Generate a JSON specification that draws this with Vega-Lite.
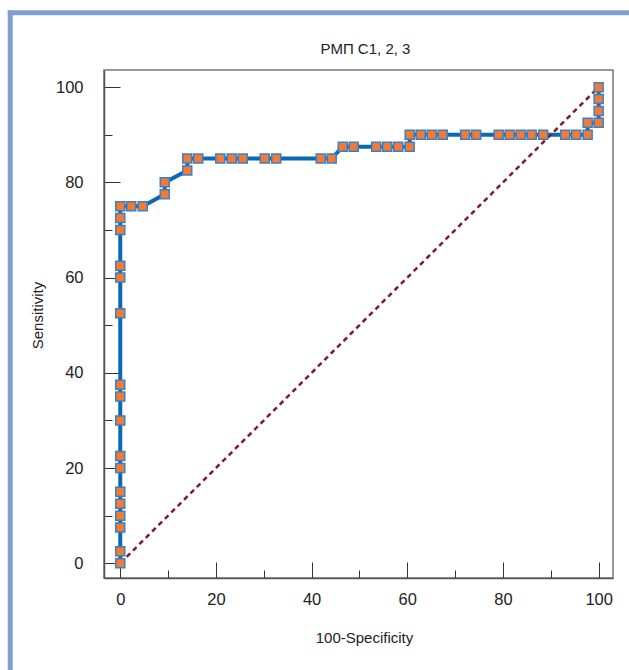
{
  "$schema": "https://vega.github.io/schema/vega-lite/v6.json",
  "width": 509,
  "height": 508,
  "autosize": {"type": "none"},
  "padding": {"left": 104, "top": 70, "right": 16, "bottom": 92},
  "background": "white",
  "title": {"text": "РМП C1, 2, 3", "anchor": "middle", "frame": "group", "baseline": "alphabetic", "offset": 0, "dy": 61, "dx": 7, "fontSize": 15, "fontWeight": "normal", "font": "Liberation Sans", "color": "#222222"},
  "config": {"view": {"stroke": "#777777", "strokeWidth": 1.5}, "font": "Liberation Sans"},
  "datasets": {
    "roc": [
      {"o": 1, "spec": 0, "sens": 0}, {"o": 2, "spec": 0, "sens": 2.5}, {"o": 3, "spec": 0, "sens": 7.5},
      {"o": 4, "spec": 0, "sens": 10}, {"o": 5, "spec": 0, "sens": 12.5}, {"o": 6, "spec": 0, "sens": 15},
      {"o": 7, "spec": 0, "sens": 20}, {"o": 8, "spec": 0, "sens": 22.5}, {"o": 9, "spec": 0, "sens": 30},
      {"o": 10, "spec": 0, "sens": 35}, {"o": 11, "spec": 0, "sens": 37.5}, {"o": 12, "spec": 0, "sens": 52.5},
      {"o": 13, "spec": 0, "sens": 60}, {"o": 14, "spec": 0, "sens": 62.5}, {"o": 15, "spec": 0, "sens": 70},
      {"o": 16, "spec": 0, "sens": 72.5}, {"o": 17, "spec": 0, "sens": 75}, {"o": 18, "spec": 2.3, "sens": 75},
      {"o": 19, "spec": 4.7, "sens": 75}, {"o": 20, "spec": 9.3, "sens": 77.5}, {"o": 21, "spec": 9.3, "sens": 80},
      {"o": 22, "spec": 14, "sens": 82.5}, {"o": 23, "spec": 14, "sens": 85}, {"o": 24, "spec": 16.3, "sens": 85},
      {"o": 25, "spec": 20.9, "sens": 85}, {"o": 26, "spec": 23.3, "sens": 85}, {"o": 27, "spec": 25.6, "sens": 85},
      {"o": 28, "spec": 30.2, "sens": 85}, {"o": 29, "spec": 32.6, "sens": 85}, {"o": 30, "spec": 41.9, "sens": 85},
      {"o": 31, "spec": 44.2, "sens": 85}, {"o": 32, "spec": 46.5, "sens": 87.5}, {"o": 33, "spec": 48.8, "sens": 87.5},
      {"o": 34, "spec": 53.5, "sens": 87.5}, {"o": 35, "spec": 55.8, "sens": 87.5}, {"o": 36, "spec": 58.1, "sens": 87.5},
      {"o": 37, "spec": 60.5, "sens": 87.5}, {"o": 38, "spec": 60.5, "sens": 90}, {"o": 39, "spec": 62.8, "sens": 90},
      {"o": 40, "spec": 65.1, "sens": 90}, {"o": 41, "spec": 67.4, "sens": 90}, {"o": 42, "spec": 72.1, "sens": 90},
      {"o": 43, "spec": 74.4, "sens": 90}, {"o": 44, "spec": 79.1, "sens": 90}, {"o": 45, "spec": 81.4, "sens": 90},
      {"o": 46, "spec": 83.7, "sens": 90}, {"o": 47, "spec": 86, "sens": 90}, {"o": 48, "spec": 88.4, "sens": 90},
      {"o": 49, "spec": 93, "sens": 90}, {"o": 50, "spec": 95.3, "sens": 90}, {"o": 51, "spec": 97.7, "sens": 90},
      {"o": 52, "spec": 97.7, "sens": 92.5}, {"o": 53, "spec": 100, "sens": 92.5}, {"o": 54, "spec": 100, "sens": 95},
      {"o": 55, "spec": 100, "sens": 97.5}, {"o": 56, "spec": 100, "sens": 100}
    ],
    "diag": [{"o": 1, "spec": 0, "sens": 0}, {"o": 2, "spec": 100, "sens": 100}]
  },
  "layer": [
    {
      "data": {"name": "roc"},
      "mark": {"type": "line", "color": "#0b68b5", "strokeWidth": 4},
      "encoding": {
        "x": {
          "field": "spec", "type": "quantitative", "title": "100-Specificity",
          "scale": {"domain": [-3.4, 103], "nice": false, "zero": false},
          "axis": {
            "values": [0, 5, 10, 15, 20, 25, 30, 35, 40, 45, 50, 55, 60, 65, 70, 75, 80, 85, 90, 95, 100],
            "labelExpr": "datum.value % 20 === 0 ? datum.label : ''",
            "tickSize": {"condition": {"test": "datum.value % 20 === 0", "value": -16}, "value": -8},
            "tickColor": "#333333", "tickWidth": 1,
            "domainColor": "#555555", "domainWidth": 1.5,
            "labelFontSize": 16.5, "labelColor": "#222222", "labelPadding": 29, "labelFont": "Liberation Sans",
            "titleFontSize": 15, "titleFontWeight": "normal", "titleColor": "#222222", "titleFont": "Liberation Sans",
            "titleX": 260, "titleY": 59, "titleBaseline": "middle",
            "grid": false
          }
        },
        "y": {
          "field": "sens", "type": "quantitative", "title": "Sensitivity",
          "scale": {"domain": [-3.1, 103.6], "nice": false, "zero": false},
          "axis": {
            "values": [0, 5, 10, 15, 20, 25, 30, 35, 40, 45, 50, 55, 60, 65, 70, 75, 80, 85, 90, 95, 100],
            "labelExpr": "datum.value % 20 === 0 ? datum.label : ''",
            "tickSize": {"condition": {"test": "datum.value % 20 === 0", "value": -16}, "value": -8},
            "tickColor": "#333333", "tickWidth": 1,
            "domainColor": "#555555", "domainWidth": 1.5,
            "labelFontSize": 16.5, "labelColor": "#222222", "labelPadding": 37, "labelFont": "Liberation Sans",
            "titleFontSize": 15, "titleFontWeight": "normal", "titleColor": "#222222", "titleFont": "Liberation Sans",
            "titleX": -67, "titleY": 245, "titleBaseline": "middle", "titleAngle": -90,
            "grid": false
          }
        },
        "order": {"field": "o", "type": "quantitative"}
      }
    },
    {
      "data": {"name": "diag"},
      "mark": {"type": "line", "color": "#7b1c2c", "strokeWidth": 2.5, "strokeDash": [5, 4]},
      "encoding": {
        "x": {"field": "spec", "type": "quantitative", "title": "100-Specificity"},
        "y": {"field": "sens", "type": "quantitative", "title": "Sensitivity"},
        "order": {"field": "o", "type": "quantitative"}
      }
    },
    {
      "data": {"name": "roc"},
      "mark": {"type": "square", "size": 81, "fill": "#f37a32", "stroke": "#3a80c8", "strokeWidth": 1.5, "opacity": 1, "filled": true},
      "encoding": {
        "x": {"field": "spec", "type": "quantitative", "title": "100-Specificity"},
        "y": {"field": "sens", "type": "quantitative", "title": "Sensitivity"}
      }
    },
    {
      "data": {"values": [{}]},
      "mark": {"type": "rule", "color": "#809fd0", "strokeWidth": 5, "clip": false},
      "encoding": {
        "x": {"datum": -23, "type": "quantitative", "title": "100-Specificity"},
        "y": {"datum": 116.1, "type": "quantitative", "title": "Sensitivity"},
        "y2": {"datum": -40}
      }
    },
    {
      "data": {"values": [{}]},
      "mark": {"type": "rule", "color": "#809fd0", "strokeWidth": 5, "clip": false},
      "encoding": {
        "x": {"datum": -23.5, "type": "quantitative", "title": "100-Specificity"},
        "x2": {"datum": 130},
        "y": {"datum": 115.6, "type": "quantitative", "title": "Sensitivity"}
      }
    }
  ]
}
